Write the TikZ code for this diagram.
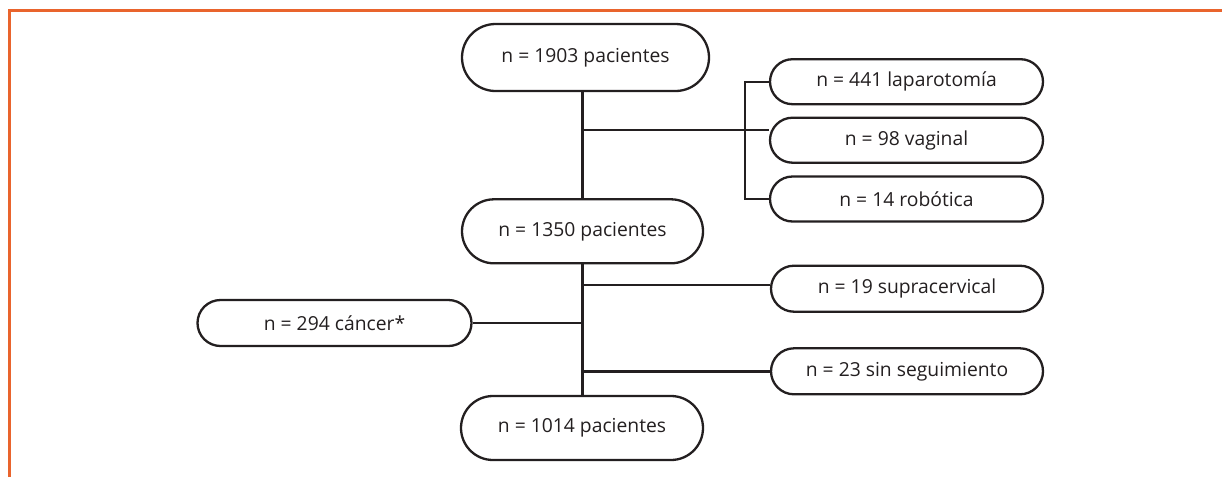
\documentclass[tikz,border=0pt]{standalone}
\usepackage{fontspec}
\setmainfont{Open Sans}
\usetikzlibrary{shapes.misc,backgrounds}
\definecolor{inkc}{RGB}{35,31,32}
\definecolor{framec}{RGB}{233,100,45}
\begin{document}
\begin{tikzpicture}[x=1pt,y=-1pt,
  boxst/.style={rounded rectangle, draw=inkc, line width=2.3pt, fill=white, inner sep=0pt,
    font=\fontsize{19.3}{21}\selectfont, text=inkc},
  linkst/.style={draw=inkc, line width=2.4pt},
  framest/.style={draw=framec, line width=2.8pt}]
\useasboundingbox (0,0) rectangle (1222,477);
% frame
\coordinate (fa) at (9.8,477);
\coordinate (fb) at (9.8,10.6);
\coordinate (fc) at (1222,10.6);
\draw[framest] (fa) -- (fb) -- (fc);
% nodes
\node[boxst, minimum width=247pt, minimum height=67pt] (n1903) at (585.5,57.5) {n = 1903 pacientes};
\node[boxst, minimum width=241pt, minimum height=64pt] (n1350) at (582.5,231.3) {n = 1350 pacientes};
\node[boxst, minimum width=242pt, minimum height=64pt] (n1014) at (582,428) {n = 1014 pacientes};
\node[boxst, minimum width=273pt, minimum height=45pt] (lap) at (906.5,81.7) {n = 441 laparotomía};
\node[boxst, minimum width=273pt, minimum height=45pt] (vag) at (906.5,140.2) {n = 98 vaginal};
\node[boxst, minimum width=273pt, minimum height=45pt] (rob) at (906.5,199) {n = 14 robótica};
\node[boxst, minimum width=272pt, minimum height=46pt] (sup) at (907,288.7) {n = 19 supracervical};
\node[boxst, minimum width=272pt, minimum height=46pt] (sin) at (907,371.3) {n = 23 sin seguimiento};
\node[boxst, minimum width=274pt, minimum height=46pt] (can) at (334.5,323) {n = 294 cáncer*};
% helper coordinates
\coordinate (tr) at (582.5,0);
\coordinate (hv) at (0,130);
\coordinate (hs) at (0,285);
\coordinate (br) at (745,0);
\begin{scope}[on background layer]
\draw[linkst] (tr |- n1903.south) -- (tr |- n1350.north);
\draw[linkst] (tr |- hv) -- (vag.west |- hv);
\draw[linkst] (lap.west) -| (br |- rob.west) -- (rob.west);
\draw[linkst] (tr |- n1350.south) -- (tr |- n1014.north);
\draw[linkst] (tr |- hs) -- (sup.west |- hs);
\draw[linkst] (tr |- sin.west) -- (sin.west);
\draw[linkst] (can.east) -- (tr |- can.east);
\end{scope}
\end{tikzpicture}
\end{document}
